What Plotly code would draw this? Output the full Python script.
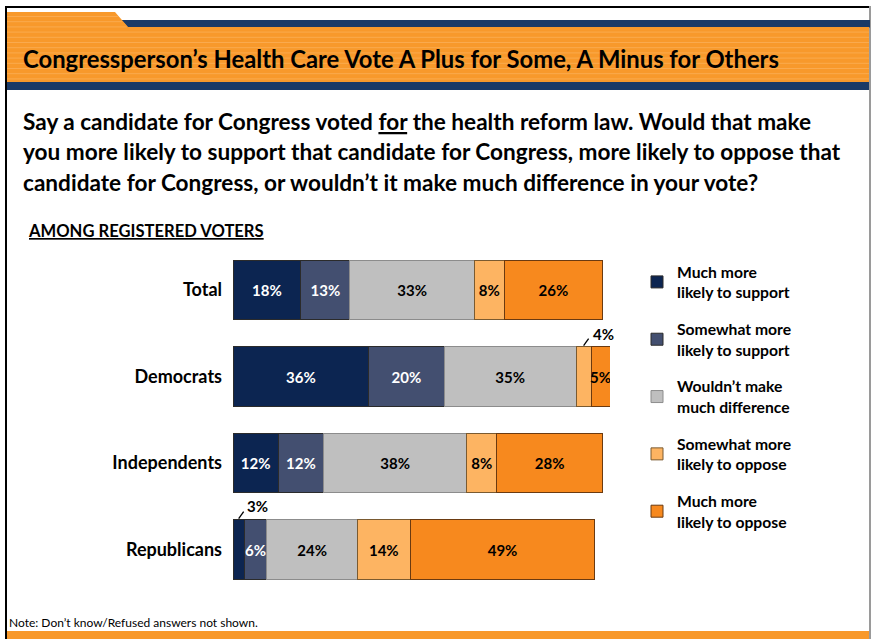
import plotly.graph_objects as go

W, H = 872, 639

groups = ["Total", "Democrats", "Independents", "Republicans"]
series_names = [
    "Much more<br>likely to support",
    "Somewhat more<br>likely to support",
    "Wouldn\u2019t make<br>much difference",
    "Somewhat more<br>likely to oppose",
    "Much more<br>likely to oppose",
]
much_support = [18, 36, 12, 3]
somewhat_support = [13, 20, 12, 6]
no_difference = [33, 35, 38, 24]
somewhat_oppose = [8, 4, 8, 14]
much_oppose = [26, 5, 28, 49]

series_values = [much_support, somewhat_support, no_difference, somewhat_oppose, much_oppose]
fill_colors = ["#0C2551", "#434F70", "#BFBFBF", "#FDB462", "#F7891E"]
edge_colors = ["#2B2B2B", "#2B2B2B", "#8C8C8C", "#7A5A30", "#6B3A10"]
label_colors = ["white", "white", "black", "black", "black"]

FONT = "Lato"

# segments too thin for an inside label get a callout above the bar instead
callouts = [("Democrats", 3), ("Republicans", 0)]
callout_offsets = [(19.5, 13), (19, 14)]  # label offset in px from the segment's top centre

def px(x):
    return x / W

def py(y):
    return 1 - y / H

fig = go.Figure()
for si, (name, vals) in enumerate(zip(series_names, series_values)):
    texts = []
    for gi, g in enumerate(groups):
        texts.append("" if (g, si) in callouts else f"{vals[gi]}%")
    fig.add_trace(go.Bar(
        y=groups, x=vals, orientation="h", name=name,
        legendgroup=f"g{si}",
        marker=dict(color=fill_colors[si], line=dict(color=edge_colors[si], width=1)),
        width=0.69,
        text=texts, textposition="inside", insidetextanchor="middle",
        constraintext="none", textangle=0,
        textfont=dict(family=FONT, size=15, color=label_colors[si], weight="bold"),
        hoverinfo="skip",
    ))

shapes = []
for (g, si), (dx, dy) in zip(callouts, callout_offsets):
    gi = groups.index(g)
    left = sum(series_values[k][gi] for k in range(si))
    mid = left + series_values[si][gi] / 2
    top = gi - 0.345
    fig.add_annotation(
        x=mid, y=top, xref="x", yref="y", xshift=dx, yshift=dy,
        text=f"<b>{series_values[si][gi]}%</b>", showarrow=False,
        font=dict(family=FONT, size=15, color="black"),
    )
    # short leader line from the segment up towards its label
    shapes.append(dict(type="line", xref="x", yref="y",
                       xsizemode="pixel", ysizemode="pixel",
                       xanchor=mid, yanchor=top,
                       x0=0, x1=5, y0=1, y1=8,
                       line=dict(color="black", width=1.3)))

frame = []
# page frame
frame.append(dict(type="rect", x0=px(5), x1=px(870), y0=py(8), y1=py(6),
                  fillcolor="black", line_width=0))
frame.append(dict(type="rect", x0=px(5), x1=px(7), y0=py(639), y1=py(6),
                  fillcolor="black", line_width=0))
frame.append(dict(type="rect", x0=px(869), x1=px(871), y0=py(639), y1=py(6),
                  fillcolor="#9A9A9A", line_width=0))

# header band
frame.append(dict(type="path",
                  path=f"M {px(121)} {py(20)} L {px(870)} {py(20)} L {px(870)} {py(27.5)} L {px(128)} {py(27.5)} Z",
                  fillcolor="#1B3A66", line_width=0))
frame.append(dict(type="path",
                  path=(f"M {px(7)} {py(12)} L {px(115)} {py(12)} L {px(128)} {py(27)} "
                        f"L {px(869)} {py(27)} L {px(869)} {py(82)} L {px(7)} {py(82)} Z"),
                  fillcolor="#F8992B", line_width=0))
y = 16.5
while y < 82:
    frame.append(dict(type="line", x0=px(7), x1=px(869 if y > 27 else 114 + (y - 12) * 0.85),
                      y0=py(y), y1=py(y), line=dict(color="#FAAA4E", width=1)))
    y += 5.2
frame.append(dict(type="rect", x0=px(7), x1=px(869), y0=py(90), y1=py(82),
                  fillcolor="#1B3A66", line_width=0))
# footer band
frame.append(dict(type="rect", x0=px(7), x1=px(869), y0=py(639), y1=py(631),
                  fillcolor="#F8992B", line_width=0))

for s in frame:
    s["xref"] = "paper"
    s["yref"] = "paper"
    s["layer"] = "below"
fig.update_layout(shapes=frame + shapes)

def note(text, x, y, size, bold=True, anchor="left"):
    fig.add_annotation(x=px(x), y=py(y), xref="paper", yref="paper",
                       xanchor=anchor, yanchor="middle", showarrow=False,
                       text=text, align="left",
                       font=dict(family=FONT, size=size, color="black",
                                 weight="bold" if bold else "normal"))

note("Congressperson\u2019s Health Care Vote A Plus for Some, A Minus for Others", 21, 59, 23.8)
question = [
    "Say a candidate for Congress voted <u>for</u> the health reform law. Would that make",
    "you more likely to support that candidate for Congress, more likely to oppose that",
    "candidate for Congress, or wouldn\u2019t it make much difference in your vote?",
]
for i, line in enumerate(question):
    note(line, 21, 121 + i * 30.7, 22.6)
note("<u>AMONG REGISTERED VOTERS</u>", 26, 231, 16.6)
note("Note: Don\u2019t know/Refused answers not shown.", 7, 622, 12, bold=False)

fig.update_layout(
    width=W, height=H,
    margin=dict(l=0, r=0, t=0, b=0),
    paper_bgcolor="white", plot_bgcolor="white",
    barmode="stack", bargap=0.31,
    showlegend=True,
    legend=dict(x=px(637), y=py(255), xanchor="left", yanchor="top",
                traceorder="grouped", tracegroupgap=13.5,
                font=dict(family=FONT, size=15.7, color="black", weight="bold"),
                bgcolor="rgba(0,0,0,0)", itemwidth=30),
    xaxis=dict(domain=[px(233), px(610)], range=[0, 100], visible=False, fixedrange=True),
    yaxis=dict(domain=[py(592.75), py(246.75)], range=[3.5, -0.5], type="category",
               showgrid=False, zeroline=False, showline=False, ticks="",
               ticklabelstandoff=10,
               tickfont=dict(family=FONT, size=18, color="black", weight="bold")),
)

fig.write_html("out.html")
